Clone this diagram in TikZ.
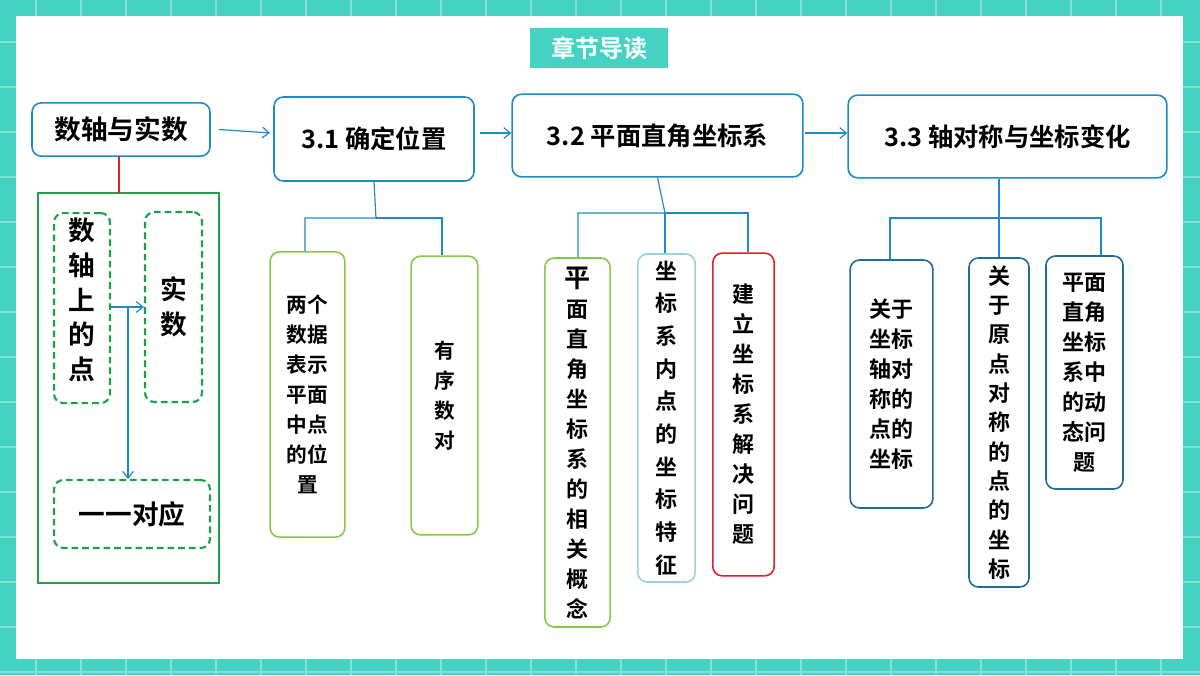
\documentclass[tikz,border=0pt]{standalone}
\usepackage{fontspec}
\newfontfamily\cjk{Noto Sans CJK SC}[BoldFont=* Bold]
\usetikzlibrary{arrows.meta}
\definecolor{teal1}{HTML}{45D2C3}
\definecolor{tgrid}{HTML}{7FE3D8}
\definecolor{bline}{HTML}{1E8CC4}
\definecolor{lgreen}{HTML}{86C84A}
\definecolor{dgreen}{HTML}{1DA04A}
\definecolor{lblue}{HTML}{9CD0DA}
\definecolor{rred}{HTML}{E0202A}
\definecolor{dteal}{HTML}{1F6E8E}
\tikzset{
 bx/.style={rounded corners=7pt,line width=1.2pt,inner sep=0pt,align=center,font=\cjk\bfseries},
 lnk/.style={bline,line width=0.9pt},
 arr/.style={bline,line width=0.9pt,-{Straight Barb[length=5pt,width=8pt]}},
}
\newcommand{\vb}[6]{% name, x1,y1,x2,y2 as style+text
}
\begin{document}
\begin{tikzpicture}[x=0.75pt,y=-0.75pt]
\useasboundingbox (0,0) rectangle (1200,675);
\fill[teal1] (0,0) rectangle (1200,675);
\foreach \i in {0,45,...,1200} \draw[tgrid,line width=0.8pt] (\i+36,0) -- (\i+36,675);
\foreach \j in {0,45,...,675} \draw[tgrid,line width=0.8pt] (0,\j+42) -- (1200,\j+42);
\fill[white] (16,16) rectangle (1183,659);
% title
\node[fill=teal1,minimum width=103.5pt,minimum height=30pt,text=white,font=\cjk\bfseries\fontsize{18}{20}\selectfont] (title) at (599,48) {章节导读};
% top boxes
\node[bx,draw=bline,minimum width=133.5pt,minimum height=40pt,font=\cjk\bfseries\fontsize{20}{22}\selectfont] (a) at (121,129.5) {数轴与实数};
\node[bx,draw=bline,minimum width=150pt,minimum height=63pt,font=\cjk\bfseries\fontsize{19}{22}\selectfont] (b) at (374,139) {3.1 确定位置};
\node[bx,draw=bline,minimum width=218pt,minimum height=62pt,font=\cjk\bfseries\fontsize{19}{22}\selectfont] (c) at (657.5,135.5) {3.2 平面直角坐标系};
\node[bx,draw=bline,minimum width=239pt,minimum height=62pt,font=\cjk\bfseries\fontsize{19}{22}\selectfont] (d) at (1007.5,136.5) {3.3 轴对称与坐标变化};
\draw[arr] (a.east)++(6pt,0) coordinate (a1) -- (270,133);
\draw[arr] (480,133) -- (c.west|-0,133);
\draw[arr] (805,133) -- (d.west|-0,133);
% left group
\node[draw=dgreen,line width=0.9pt,minimum width=135.75pt,minimum height=292.5pt,inner sep=0pt] (g) at (128.5,388) {};
\draw[rred,line width=0.9pt] (119,156) -- (119,193);
\tikzset{dbx/.style={bx,draw=dgreen,dashed,dash pattern=on 5pt off 3pt,line width=1.6pt,font=\cjk\bfseries\fontsize{20}{26}\selectfont}}
\node[dbx,minimum width=42pt,minimum height=142.5pt,anchor=north] (p) at (82,212) {};
\node[anchor=north,font=\cjk\bfseries\fontsize{20}{26}\selectfont,align=center,inner sep=0pt] (pt) at (82,218) {数\\轴\\上\\的\\点};
\node[dbx,minimum width=42.75pt,minimum height=142.5pt] (q) at (173.5,307) {实\\数};
\node[dbx,minimum width=117pt,minimum height=51pt] (r) at (132,514) {一一对应};
\draw[arr] (p.east|-0,307) -- (q.west|-0,307);
\draw[arr] (128,307) -- (128,479);
% 3.1 children
\tikzset{gb/.style={bx,draw=lgreen,font=\cjk\bfseries\fontsize{15.5}{22.5}\selectfont}}
\node[gb,minimum width=56pt,minimum height=214pt] (b1) at (307.5,394.5) {两个\\数据\\表示\\平面\\中点\\的位\\置};
\node[gb,minimum width=50pt,minimum height=209pt] (b2) at (444.5,395.5) {有\\序\\数\\对};
\draw[lnk] (b.south) -- (376,218) -- (305,218) -- (b1.north-|305,0);
\draw[lnk] (376,218) -- (442,218) -- (b2.north-|442,0);
% 3.2 children
\node[bx,draw=lgreen,minimum width=49pt,minimum height=276.75pt,font=\cjk\bfseries\fontsize{16.5}{22.5}\selectfont] (c1) at (577.5,442.5) {{\fontsize{19.5}{22.5}\selectfont 平}\\面\\直\\角\\坐\\标\\系\\的\\相\\关\\概\\念};
\node[bx,draw=lblue,minimum width=43pt,minimum height=246pt,font=\cjk\bfseries\fontsize{16.5}{24.5}\selectfont] (c2) at (666.5,418) {坐\\标\\系\\内\\点\\的\\坐\\标\\特\\征};
\node[bx,draw=rred,minimum width=46pt,minimum height=242pt,font=\cjk\bfseries\fontsize{16.5}{22.5}\selectfont] (c3) at (743.5,414.5) {建\\立\\坐\\标\\系\\解\\决\\问\\题};
\draw[lnk] (c.south) -- (665,213) -- (578,213) -- (c1.north-|578,0);
\draw[lnk] (665,213) -- (748,213) -- (c3.north-|748,0);
\draw[lnk] (665,213) -- (c2.north-|665,0);
% 3.3 children
\tikzset{tb/.style={bx,draw=dteal,font=\cjk\bfseries\fontsize{16.5}{22.5}\selectfont}}
\node[tb,minimum width=62pt,minimum height=186pt] (d1) at (891.5,384) {关于\\坐标\\轴对\\称的\\点的\\坐标};
\node[tb,minimum width=45pt,minimum height=246.75pt,font=\cjk\bfseries\fontsize{16.5}{22}\selectfont] (d2) at (999,422.5) {关\\于\\原\\点\\对\\称\\的\\点\\的\\坐\\标};
\node[tb,minimum width=57.75pt,minimum height=174.75pt] (d3) at (1084.5,372.5) {平面\\直角\\坐标\\系中\\的动\\态问\\题};
\draw[lnk] (d.south-|999,0) -- (999,218) -- (890,218) -- (d1.north-|890,0);
\draw[lnk] (999,218) -- (1101,218) -- (d3.north-|1101,0);
\draw[lnk] (999,218) -- (d2.north);
\end{tikzpicture}
\end{document}
